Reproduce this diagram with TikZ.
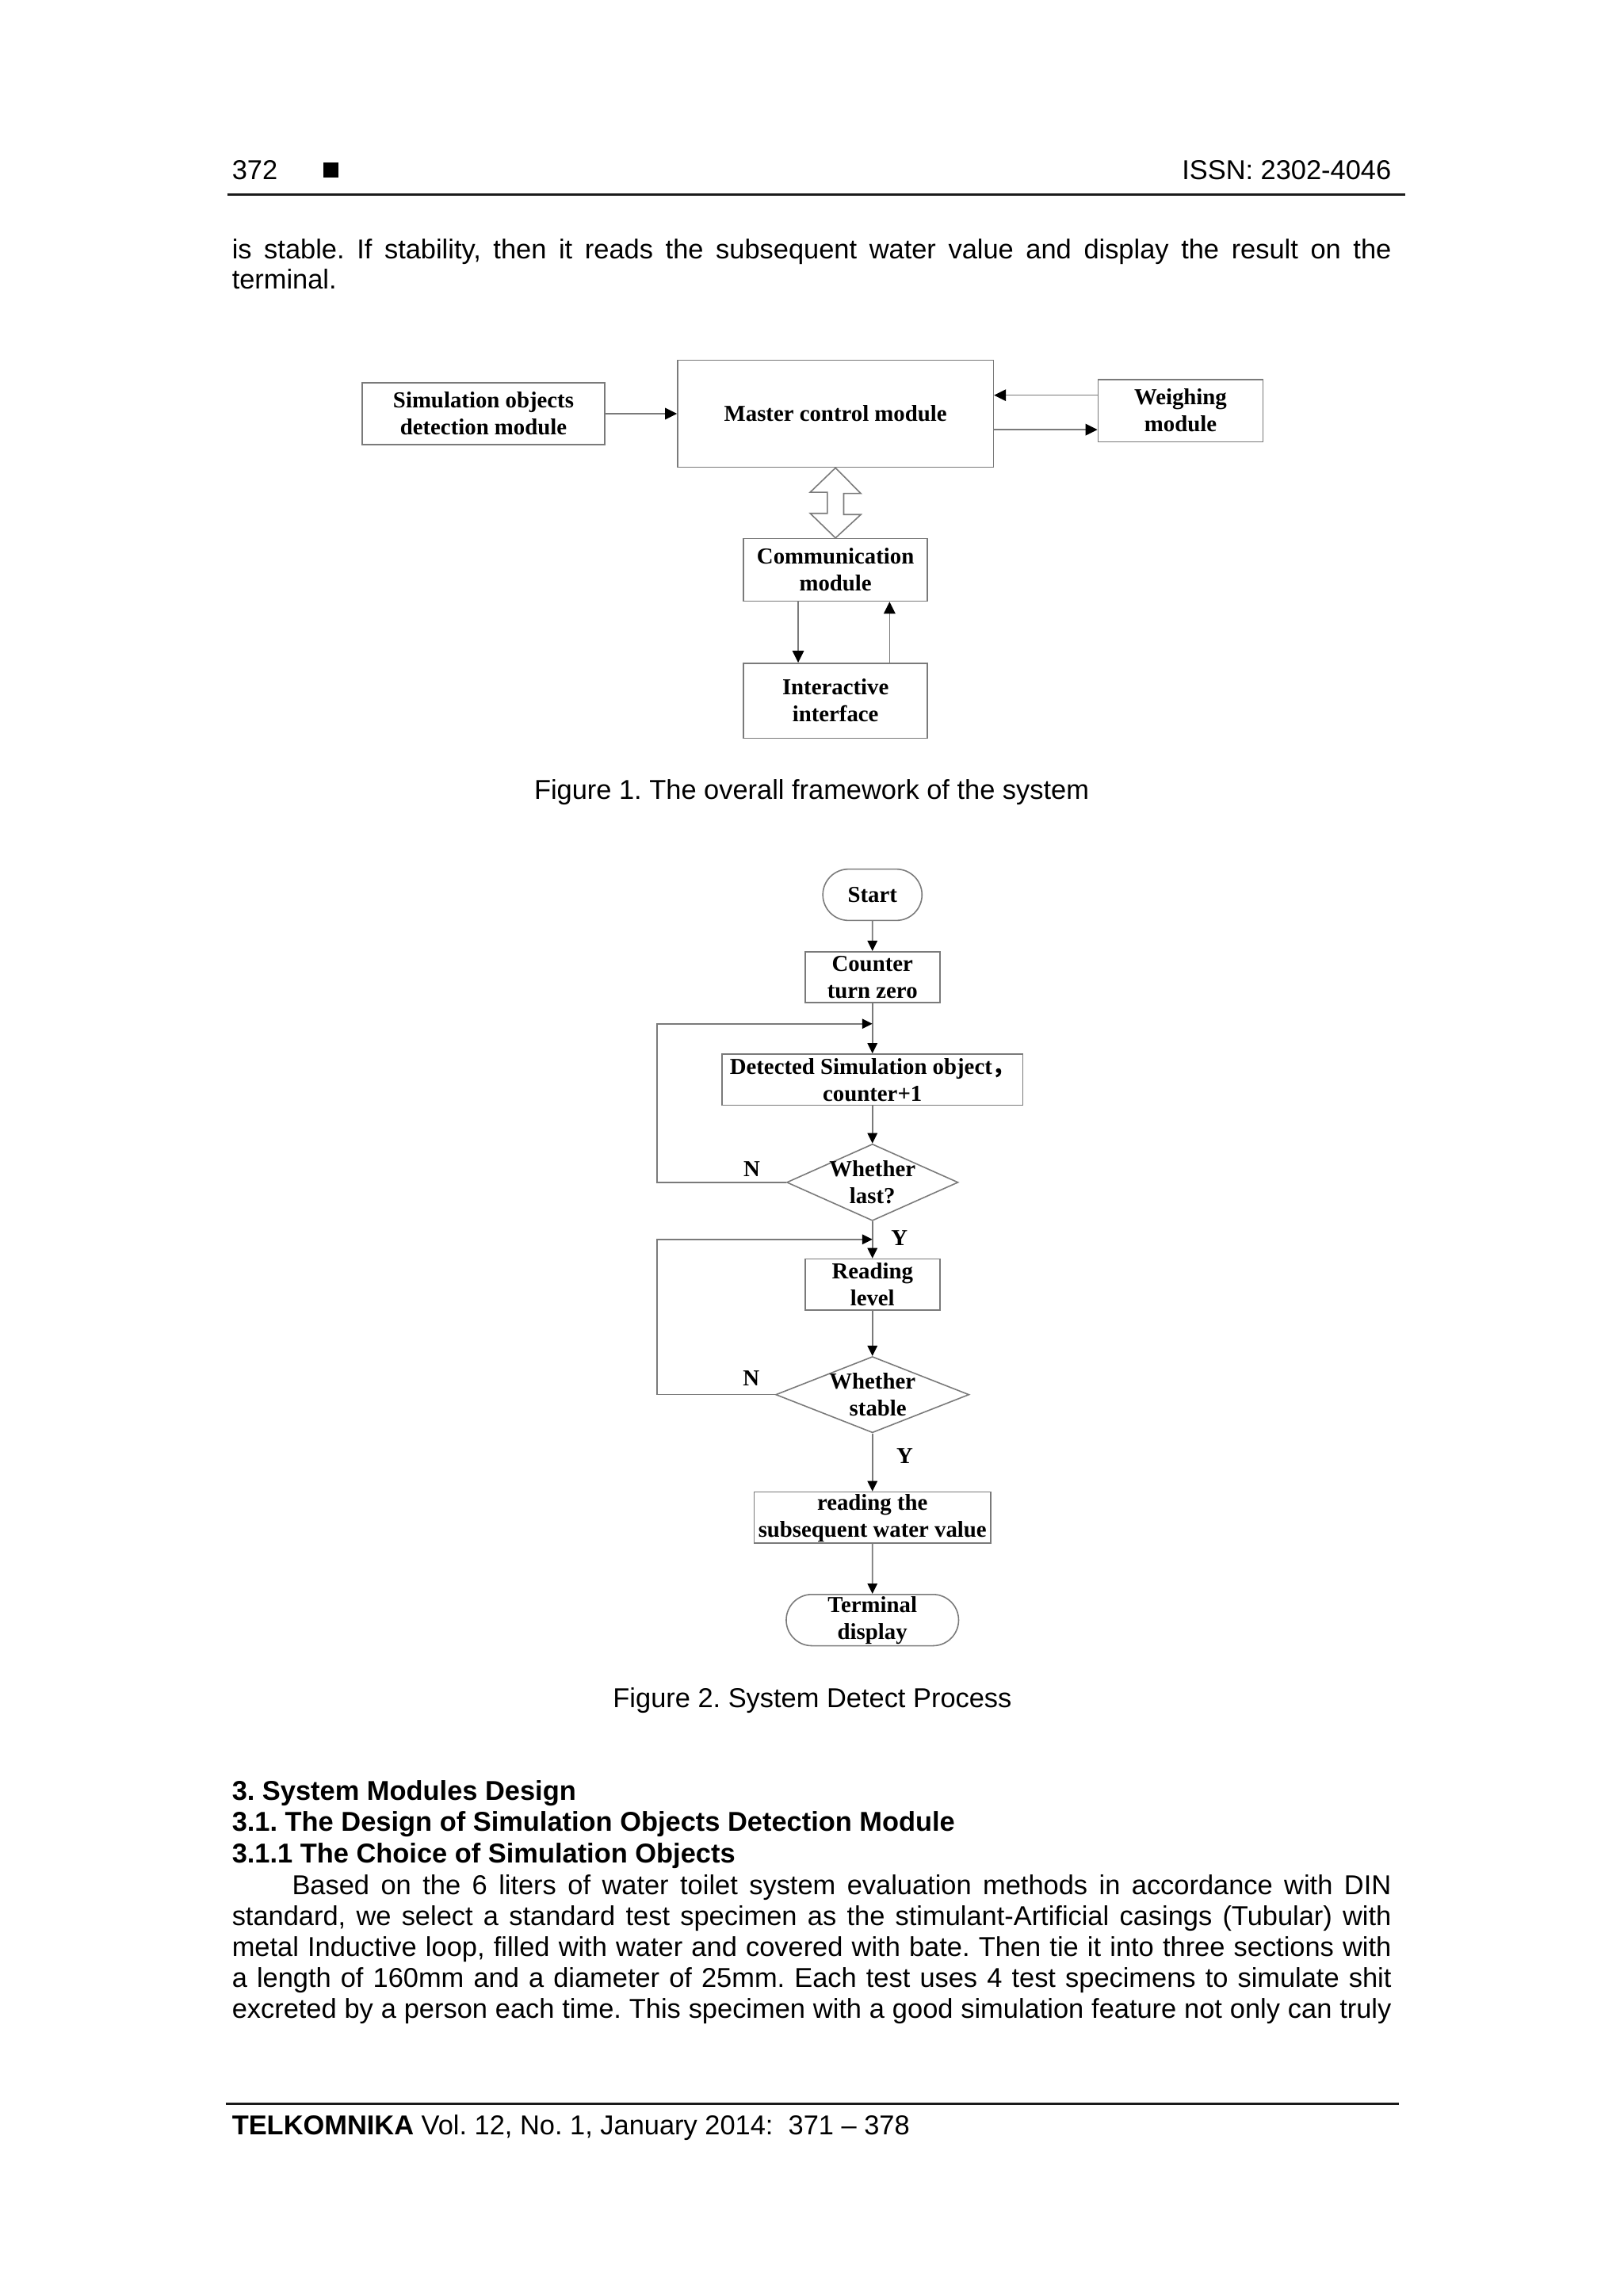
\documentclass[tikz,border=0pt]{standalone}
\usepackage{fontspec}
\setmainfont{Liberation Sans}
\newfontfamily\figserif{Liberation Serif}
\newfontfamily\cjk{Noto Sans CJK SC}
\usetikzlibrary{arrows.meta, positioning, shapes.geometric, shapes.misc, calc}
\definecolor{fgline}{HTML}{7A7A7A}
\definecolor{pagerule}{HTML}{1A1A1A}
\frenchspacing
\newcommand{\figfont}{\figserif\bfseries\fontsize{8.2}{9.7}\selectfont}
\newcommand{\pagefont}{\fontsize{9.8}{11.3}\selectfont}
\newcommand{\fullline}[1]{\makebox[146.4mm][s]{#1}}
\tikzset{
  modbox/.style={draw=fgline, line width=0.45pt, inner sep=0pt, align=center, font=\figfont},
  stepbox/.style={modbox},
  endbox/.style={modbox, rounded rectangle},
  decbox/.style={modbox, diamond},
  dtext/.style={font=\figfont, align=center, inner sep=0pt},
  yn/.style={font=\figfont, inner sep=0pt},
  arr/.style={draw=fgline, line width=0.45pt,
              -{Triangle[length=1.5mm, width=1.45mm, color=black, fill=black]}},
  sarr/.style={draw=fgline, line width=0.45pt,
               -{Triangle[length=1.3mm, width=1.25mm, color=black, fill=black]}},
  hollow/.style={draw=fgline, line width=0.45pt, fill=white},
  ptext/.style={anchor=base west, inner sep=0pt, font=\pagefont},
  captext/.style={anchor=base, inner sep=0pt, font=\pagefont},
}

\begin{document}
\begin{tikzpicture}[x=0.185mm, y=-0.185mm]
  \fill[white] (0,0) rectangle (1108,1567.3);
  \useasboundingbox (0,0) rectangle (1108,1567.3);

  % page head
  \node[ptext] (pnum) at (158,122.7) {372};
  \fill[black] (220.5,110.9) rectangle (231,121.2);
  \node[ptext, anchor=base east] (issn) at (950,122.7) {ISSN: 2302-4046};
  \draw[pagerule, line width=0.8pt] (155,132.9) -- (959,132.9);

  \node[ptext] (l1) at (158,176.4) {\fullline{is stable. If stability, then it reads the subsequent water value and display the result on the}};
  \node[ptext] (l2) at (158,197.1) {terminal.};

  % figure 1
  \node[modbox, minimum width=30.65mm, minimum height=7.84mm] (sim) at (330,282.4) {Simulation objects\\detection module};
  \node[modbox, minimum width=39.87mm, minimum height=13.52mm] (master) at (570.3,282.4) {Master control module};
  \node[modbox, minimum width=20.81mm, minimum height=7.88mm] (weigh) at (805.8,280.3) {Weighing\\module};
  \node[modbox, minimum width=23.22mm, minimum height=7.90mm] (comm) at (570.3,389) {Communication\\module};
  \node[modbox, minimum width=23.22mm, minimum height=9.45mm] (inter) at (570.3,478.3) {Interactive\\interface};

  \coordinate (w1) at ($(weigh.west)+(0,-10.5)$);
  \coordinate (w2) at ($(weigh.west)+(0,13)$);
  \draw[arr] (sim) -- (master);
  \draw[arr] (w1) -- (w1 -| master.east);
  \draw[arr] (w2 -| master.east) -- (w2);
  \draw[hollow] (master.south) -- ++(17.3,17.5) -- ++(-11.7,0) -- ++(0,14.4) -- ++(11.7,0)
    -- (comm.north) -- ++(-17.3,-16.8) -- ++(11.7,0) -- ++(0,-14.4) -- ++(-11.7,0) -- cycle;
  \draw[arr] ($(comm.south)+(-25.5,0)$) -- ($(inter.north)+(-25.5,0)$);
  \draw[arr] ($(inter.north)+(36.9,0)$) -- ($(comm.south)+(36.9,0)$);

  \node[captext] (cap1) at (554,545.5) {Figure 1. The overall framework of the system};

  % figure 2
  \node[endbox, minimum width=12.52mm, minimum height=6.48mm] (start) at (595.5,610.8) {Start};
  \node[stepbox, minimum width=17.02mm, minimum height=6.44mm] (counter) at (595.5,667) {Counter\\turn zero};
  \node[stepbox, minimum width=38mm, minimum height=6.48mm] (detect) at (595.5,737) {Detected Simulation object{\cjk ，}\\counter+1};
  \node[decbox, minimum width=21.65mm, minimum height=9.69mm,
        label={[dtext]center:Whether\\last?}] (last) at (595.5,807.1) {};
  \node[stepbox, minimum width=17.02mm, minimum height=6.48mm] (reading) at (595.5,876.9) {Reading\\level};
  \node[decbox, minimum width=24.42mm, minimum height=9.62mm,
        label={[dtext]center:Whether\\\hspace*{1.4mm}stable}] (stable) at (595.5,952) {};
  \node[stepbox, minimum width=29.88mm, minimum height=6.44mm, text depth=0.5mm] (water) at (595.5,1035.8) {reading the\\subsequent water value};
  \node[endbox, minimum width=21.77mm, minimum height=6.48mm, text depth=0.5mm] (term) at (595.5,1105.9) {Terminal\\display};

  \coordinate (j1) at ($(counter.south)+(0,14)$);
  \coordinate (j2) at ($(last.south)+(0,12.3)$);
  \draw[sarr] (start) -- (counter);
  \draw[sarr] (counter) -- (detect);
  \draw[sarr] (detect) -- (last);
  \draw[sarr] (last) -- (reading);
  \draw[sarr] (reading) -- (stable);
  \draw[sarr] (stable) -- (water);
  \draw[sarr] (water) -- (term);
  \draw[sarr] (last.west) -- ++(-88,0) |- (j1);
  \draw[sarr] (stable.west) -- ++(-80.5,0) |- (j2);

  \node[yn] (n1) at (513.2,797.8) {N};
  \node[yn] (y1) at (613.9,845.2) {Y};
  \node[yn] (n2) at (512.8,940.9) {N};
  \node[yn] (y2) at (617.5,993.6) {Y};

  \node[captext] (cap2) at (554.5,1165.5) {Figure 2. System Detect Process};

  % section text
  \node[ptext] (h1) at (158,1229) {\bfseries 3. System Modules Design};
  \node[ptext] (h2) at (158,1250.2) {\bfseries 3.1. The Design of Simulation Objects Detection Module};
  \node[ptext] (h3) at (158,1271.4) {\bfseries 3.1.1 The Choice of Simulation Objects};
  \node[ptext] (p1) at (199,1293) {\makebox[138.8mm][s]{Based on the 6 liters of water toilet system evaluation methods in accordance with DIN}};
  \node[ptext] (p2) at (158,1314.2) {\fullline{standard, we select a standard test specimen as the stimulant-Artificial casings (Tubular) with}};
  \node[ptext] (p3) at (158,1335.4) {\fullline{metal Inductive loop, filled with water and covered with bate. Then tie it into three sections with}};
  \node[ptext] (p4) at (158,1356.6) {\fullline{a length of 160mm and a diameter of 25mm. Each test uses 4 test specimens to simulate shit}};
  \node[ptext] (p5) at (158,1377.8) {\fullline{excreted by a person each time. This specimen with a good simulation feature not only can truly}};

  % page foot
  \draw[pagerule, line width=0.8pt] (154,1436.1) -- (955,1436.1);
  \node[ptext] (foot) at (158,1457.4) {\textbf{TELKOMNIKA} Vol. 12, No. 1, January 2014:\ \ 371 – 378};
\end{tikzpicture}
\end{document}
